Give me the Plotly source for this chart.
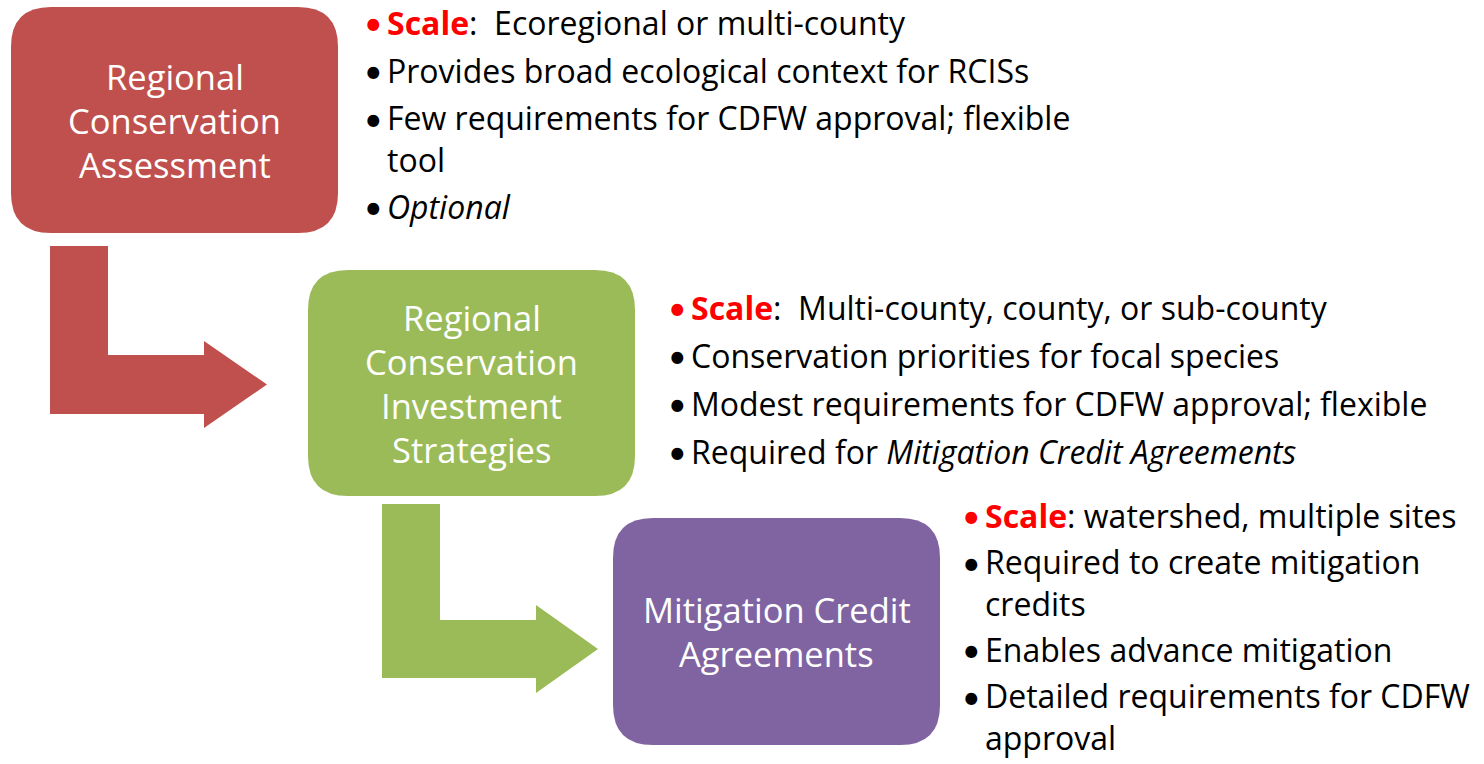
import plotly.graph_objects as go

# ---------------- data (text content) ----------------
box_titles = [
    ["Regional", "Conservation", "Assessment"],
    ["Regional", "Conservation", "Investment", "Strategies"],
    ["Mitigation Credit", "Agreements"],
]
box_colors = ["#C0504D", "#9BBB59", "#8064A2"]

scale_texts = ["Ecoregional or multi-county",
               "Multi-county, county, or sub-county",
               "watershed, multiple sites"]
scale_sep = [":&nbsp;&nbsp;", ":&nbsp;&nbsp;", ": "]

bullets_1 = [["Provides broad ecological context for RCISs"],
             ["Few requirements for CDFW approval; flexible", "tool"],
             ["<i>Optional</i>"]]
bullets_2 = [["Conservation priorities for focal species"],
             ["Modest requirements for CDFW approval; flexible"],
             ["Required for <i>Mitigation Credit Agreements</i>"]]
bullets_3 = [["Required to create mitigation", "credits"],
             ["Enables advance mitigation"],
             ["Detailed requirements for CDFW", "approval"]]
bullet_lists = [bullets_1, bullets_2, bullets_3]

# ---------------- layout geometry ----------------
W, H = 1484, 764
boxes = [(11, 7, 338, 233), (308, 270, 635, 496), (613, 518, 940, 745)]
radius = 40
title_line_h = 44
title_size = 34.5
list_x = [362, 666, 960]          # bullet x
list_indent = 23
list_top = [22, 307, 515]
item_gap = [48, 48, 47]
wrap_gap = 40
list_size = 32
plotly_line = 1.3 * list_size     # plotly's own <br> line spacing
FONT = "Open Sans"
BULLET_FONT = "Lato"

# arrows: (bar_x0, bar_x1, bar_top, hbar_top, hbar_bot, head_x, head_top, head_bot, tip_x)
arrows = [
    (50, 108, 246, 355, 414, 204, 341, 428, 267),
    (382, 440, 504, 620, 678, 536, 605, 693, 598),
]
arrow_colors = ["#C0504D", "#9BBB59"]


def rrect(x0, y0, x1, y1, r):
    return (f"M {x0+r},{y0} L {x1-r},{y0} Q {x1},{y0} {x1},{y0+r} "
            f"L {x1},{y1-r} Q {x1},{y1} {x1-r},{y1} L {x0+r},{y1} "
            f"Q {x0},{y1} {x0},{y1-r} L {x0},{y0+r} Q {x0},{y0} {x0+r},{y0} Z")


def arrow_path(a):
    bx0, bx1, btop, ht, hb, hx, hht, hhb, tip = a
    mid = (hht + hhb) / 2
    return (f"M {bx0},{btop} L {bx1},{btop} L {bx1},{ht} L {hx},{ht} L {hx},{hht} "
            f"L {tip},{mid} L {hx},{hhb} L {hx},{hb} L {bx0},{hb} Z")


fig = go.Figure()
fig.add_trace(go.Scatter(x=[0, W], y=[0, H], mode="markers",
                         marker=dict(opacity=0), hoverinfo="skip", showlegend=False))

shapes = []
for a, c in zip(arrows, arrow_colors):
    shapes.append(dict(type="path", path=arrow_path(a), xref="x", yref="y",
                       fillcolor=c, line=dict(width=0), layer="below"))
for b, c in zip(boxes, box_colors):
    shapes.append(dict(type="path", path=rrect(*b, radius), xref="x", yref="y",
                       fillcolor=c, line=dict(width=0), layer="below"))

ann = []
# box titles
for b, lines in zip(boxes, box_titles):
    cx = (b[0] + b[2]) / 2
    cy = (b[1] + b[3]) / 2
    n = len(lines)
    for i, t in enumerate(lines):
        y = cy + (i - (n - 1) / 2) * title_line_h
        ann.append(dict(x=cx, y=y, text=t, showarrow=False, xanchor="center",
                        yanchor="middle", font=dict(family=FONT, size=title_size, color="white")))

# bullet lists
for k in range(3):
    x0 = list_x[k]
    y = list_top[k]
    ann.append(dict(x=x0, y=y, text="•", showarrow=False, xanchor="left", yanchor="middle",
                    font=dict(family=BULLET_FONT, size=list_size, color="#FF0000")))
    ann.append(dict(x=x0 + list_indent, y=y,
                    text=f"<span style='color:#FF0000'><b>Scale</b></span>{scale_sep[k]}{scale_texts[k]}",
                    showarrow=False, xanchor="left", yanchor="middle",
                    font=dict(family=FONT, size=list_size, color="black")))
    for item in bullet_lists[k]:
        y += item_gap[k]
        ann.append(dict(x=x0, y=y, text="•", showarrow=False, xanchor="left", yanchor="middle",
                        font=dict(family=BULLET_FONT, size=list_size, color="black")))
        n = len(item)
        ann.append(dict(x=x0 + list_indent, y=y + (n - 1) * plotly_line / 2,
                        text="<br>".join(item), showarrow=False, align="left",
                        xanchor="left", yanchor="middle",
                        font=dict(family=FONT, size=list_size, color="black")))
        y += (n - 1) * wrap_gap

fig.update_layout(
    width=W, height=H, margin=dict(l=0, r=0, t=0, b=0),
    paper_bgcolor="white", plot_bgcolor="white",
    xaxis=dict(range=[0, W], visible=False, fixedrange=True),
    yaxis=dict(range=[H, 0], visible=False, fixedrange=True),
    shapes=shapes, annotations=ann, showlegend=False,
)
fig.write_html("out.html", config={"displayModeBar": False},
               post_script="document.body.style.margin='0';document.body.style.overflow='hidden';")
